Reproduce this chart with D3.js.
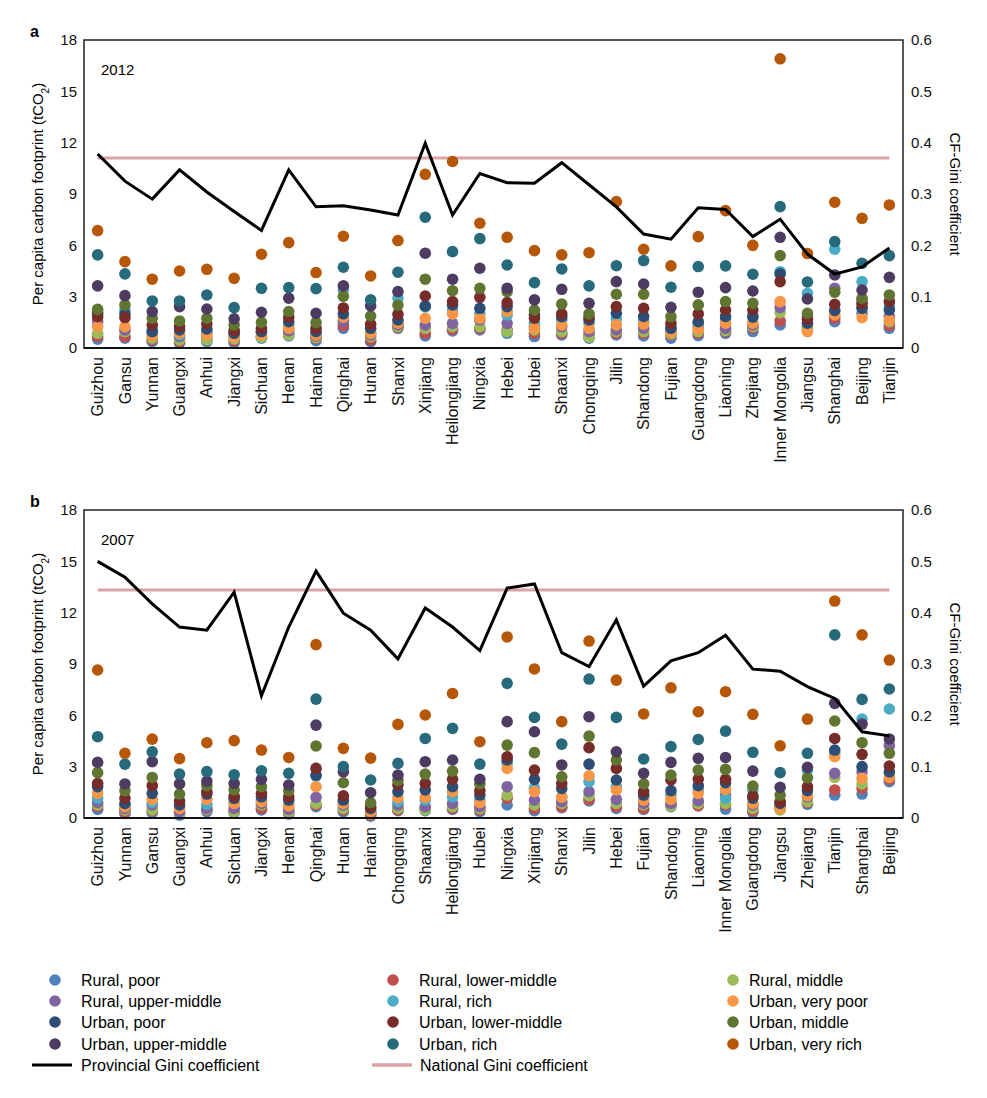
<!DOCTYPE html>
<html>
<head>
<meta charset="utf-8">
<script src="https://cdn.jsdelivr.net/npm/d3@7"></script>
<style>
  body { margin: 0; background: #fff; }
  svg { font-family: "Liberation Sans", Arial, sans-serif; }
</style>
</head>
<body>
<svg id="chart" width="987" height="1098"></svg>
<script>
// series (legend order)
var seriesNames = ["Rural, poor", "Rural, lower-middle", "Rural, middle", "Rural, upper-middle", "Rural, rich", "Urban, very poor",
  "Urban, poor", "Urban, lower-middle", "Urban, middle", "Urban, upper-middle", "Urban, rich", "Urban, very rich"];
var seriesColors = ["#4f81bd", "#c0504d", "#9bbb59", "#8064a2", "#4bacc6", "#f79646",
  "#2c4d75", "#772c2a", "#5f7530", "#4d3b62", "#276a7c", "#b65708"];

// ---- panel a, 2012 ----
var provinces2012 = ["Guizhou", "Gansu", "Yunnan", "Guangxi", "Anhui", "Jiangxi", "Sichuan", "Henan", "Hainan", "Qinghai",
  "Hunan", "Shanxi", "Xinjiang", "Heilongjiang", "Ningxia", "Hebei", "Hubei", "Shaanxi", "Chongqing", "Jilin",
  "Shandong", "Fujian", "Guangdong", "Liaoning", "Zhejiang", "Inner Mongolia", "Jiangsu", "Shanghai", "Beijing", "Tianjin"];
var rp12  = [0.51, 0.57, 0.37, 0.28, 0.37, 0.32, 0.57, 0.70, 0.43, 1.15, 0.37, 1.15, 0.70, 1.00, 1.06, 0.86, 0.67, 0.76, 0.57, 0.76, 0.70, 0.57, 0.72, 0.86, 0.96, 1.35, 1.06, 1.54, 2.03, 1.15];
var rlm12 = [0.67, 0.67, 0.47, 0.37, 0.57, 0.43, 0.67, 0.80, 0.56, 1.31, 0.47, 1.20, 0.86, 1.09, 1.15, 1.06, 0.86, 0.86, 0.76, 0.86, 0.86, 0.76, 0.86, 0.96, 1.15, 1.58, 1.25, 1.74, 2.42, 1.31];
var rm12  = [0.86, 0.96, 0.57, 0.47, 0.47, 0.53, 0.63, 0.76, 0.60, 1.60, 0.66, 1.25, 1.15, 1.25, 1.25, 0.96, 1.06, 0.96, 0.63, 0.96, 0.96, 0.83, 0.96, 1.02, 1.25, 2.07, 1.15, 2.13, 2.52, 1.54];
var rum12 = [1.54, 1.06, 0.86, 0.67, 0.86, 0.80, 0.90, 1.00, 0.70, 1.55, 0.76, 1.35, 1.35, 1.44, 1.64, 1.44, 1.25, 1.25, 0.96, 1.06, 1.15, 1.06, 1.25, 1.15, 1.35, 2.36, 1.83, 3.49, 2.81, 1.83];
var rr12  = [2.10, 2.22, 1.06, 0.76, 1.00, 0.90, 1.00, 1.30, 0.90, 3.39, 0.90, 2.91, 2.40, 2.20, 2.03, 1.93, 1.44, 1.64, 1.44, 1.70, 1.54, 1.25, 1.44, 1.64, 1.93, 4.46, 3.20, 5.77, 3.88, 2.42];
var uvp12 = [1.25, 1.25, 0.70, 0.86, 0.76, 0.67, 0.76, 1.15, 0.76, 1.80, 0.86, 1.45, 1.74, 1.99, 1.74, 2.13, 1.15, 1.35, 1.15, 1.35, 1.39, 0.92, 1.11, 1.45, 1.45, 2.71, 0.96, 1.93, 1.78, 1.64];
var up12  = [2.00, 2.00, 0.96, 1.06, 1.11, 0.86, 0.96, 1.54, 0.96, 2.00, 1.15, 1.64, 2.46, 2.52, 2.32, 2.42, 1.93, 1.83, 1.64, 2.03, 1.84, 1.15, 1.54, 1.84, 1.80, 4.33, 1.45, 2.20, 2.32, 2.22];
var ulm12 = [1.83, 1.78, 1.35, 1.25, 1.41, 1.02, 1.15, 1.80, 1.15, 2.34, 1.39, 1.97, 3.04, 2.71, 2.96, 2.65, 1.74, 1.99, 1.80, 2.42, 2.32, 1.44, 1.99, 2.22, 2.22, 3.88, 1.68, 2.55, 2.61, 2.71];
var um12  = [2.26, 2.52, 1.74, 1.58, 1.74, 1.35, 1.50, 2.13, 1.48, 3.02, 1.87, 2.50, 4.02, 3.35, 3.49, 3.30, 2.22, 2.57, 1.99, 3.14, 3.14, 1.83, 2.52, 2.71, 2.61, 5.40, 2.03, 3.26, 2.91, 3.10];
var uum12 = [3.63, 3.06, 2.13, 2.42, 2.28, 1.70, 2.09, 2.91, 2.03, 3.63, 2.46, 3.30, 5.54, 4.02, 4.66, 3.49, 2.81, 3.43, 2.61, 3.88, 3.74, 2.38, 3.26, 3.53, 3.33, 6.47, 2.87, 4.27, 3.39, 4.13];
var ur12  = [5.44, 4.33, 2.75, 2.75, 3.10, 2.36, 3.49, 3.53, 3.47, 4.72, 2.81, 4.43, 7.64, 5.63, 6.39, 4.85, 3.82, 4.62, 3.63, 4.81, 5.11, 3.55, 4.76, 4.80, 4.31, 8.26, 3.86, 6.22, 4.95, 5.40];
var uvr12 = [6.86, 5.05, 4.02, 4.50, 4.60, 4.07, 5.48, 6.16, 4.41, 6.53, 4.21, 6.28, 10.15, 10.90, 7.29, 6.47, 5.69, 5.44, 5.57, 8.56, 5.77, 4.80, 6.51, 8.03, 6.00, 16.90, 5.52, 8.52, 7.58, 8.36];
var gini12 = [0.378, 0.325, 0.290, 0.347, 0.304, 0.266, 0.229, 0.347, 0.275, 0.277, 0.269, 0.259, 0.399, 0.259, 0.340,
  0.322, 0.321, 0.361, 0.318, 0.275, 0.222, 0.212, 0.273, 0.270, 0.217, 0.251, 0.183, 0.144, 0.158, 0.195];
var nationalGini12 = 0.370;

// ---- panel b, 2007 ----
var provinces2007 = ["Guizhou", "Yunnan", "Gansu", "Guangxi", "Anhui", "Sichuan", "Jiangxi", "Henan", "Qinghai", "Hunan",
  "Hainan", "Chongqing", "Shaanxi", "Heilongjiang", "Hubei", "Ningxia", "Xinjiang", "Shanxi", "Jilin", "Hebei",
  "Fujian", "Shandong", "Liaoning", "Inner Mongolia", "Guangdong", "Jiangsu", "Zhejiang", "Tianjin", "Shanghai", "Beijing"];
var rp07  = [0.50, 0.27, 0.31, 0.17, 0.37, 0.31, 0.47, 0.23, 0.66, 0.37, 0.11, 0.43, 0.43, 0.50, 0.37, 0.76, 0.43, 0.60, 1.00, 0.56, 0.50, 0.66, 0.76, 0.52, 0.33, 0.56, 0.80, 1.34, 1.40, 2.12];
var rlm07 = [0.66, 0.37, 0.43, 0.31, 0.47, 0.43, 0.56, 0.31, 0.76, 0.47, 0.17, 0.47, 0.56, 0.56, 0.47, 1.15, 0.56, 0.66, 1.09, 0.66, 0.56, 0.76, 0.70, 0.76, 0.43, 0.66, 0.89, 1.64, 1.73, 2.26];
var rm07  = [0.76, 0.47, 0.47, 0.27, 0.50, 0.37, 0.76, 0.37, 0.85, 0.56, 0.23, 0.56, 0.47, 0.66, 0.56, 1.34, 0.76, 0.85, 1.30, 0.85, 0.76, 0.70, 0.85, 0.85, 0.56, 0.47, 0.95, 2.37, 1.99, 2.60];
var rum07 = [0.91, 0.56, 0.76, 0.37, 0.56, 0.56, 0.85, 0.50, 1.21, 0.76, 0.27, 0.76, 0.66, 0.85, 0.66, 1.83, 1.05, 0.95, 1.54, 1.09, 0.85, 0.85, 1.01, 1.34, 0.76, 0.76, 1.24, 2.61, 2.70, 4.24];
var rr07  = [1.15, 0.76, 0.89, 0.66, 0.80, 0.95, 1.05, 0.76, 2.45, 0.95, 0.40, 0.95, 1.05, 1.24, 1.05, 3.20, 1.73, 1.24, 2.12, 1.83, 1.24, 1.34, 1.64, 1.15, 1.64, 0.90, 2.80, 3.80, 5.78, 6.37];
var uvp07 = [1.44, 0.66, 1.09, 0.56, 1.09, 0.85, 0.95, 0.70, 1.83, 0.85, 0.37, 1.19, 1.21, 1.54, 0.89, 2.90, 1.54, 1.21, 2.47, 1.64, 1.05, 1.09, 1.44, 1.67, 0.85, 0.56, 1.30, 3.58, 2.32, 2.37];
var up07  = [1.83, 0.85, 1.44, 0.76, 1.40, 1.15, 1.24, 1.05, 2.51, 1.05, 0.56, 1.54, 1.64, 1.83, 1.34, 3.39, 2.26, 1.73, 3.15, 2.22, 1.34, 1.60, 1.89, 2.06, 1.15, 0.85, 1.60, 3.97, 3.00, 2.70];
var ulm07 = [2.02, 1.15, 1.89, 0.99, 1.54, 1.28, 1.44, 1.24, 2.90, 1.30, 0.66, 1.93, 2.02, 2.26, 1.60, 3.58, 2.80, 2.02, 4.11, 2.90, 1.54, 2.22, 2.28, 2.26, 1.30, 0.95, 1.83, 4.65, 3.72, 3.04];
var um07  = [2.65, 1.60, 2.37, 1.40, 1.89, 1.64, 1.83, 1.60, 4.21, 2.06, 0.89, 2.20, 2.57, 2.74, 1.99, 4.26, 3.82, 2.41, 4.79, 3.39, 1.99, 2.51, 2.80, 2.84, 1.87, 1.34, 2.35, 5.67, 4.40, 3.78];
var uum07 = [3.25, 1.99, 3.29, 1.99, 2.16, 2.02, 2.26, 1.93, 5.43, 2.70, 1.48, 2.51, 3.29, 3.39, 2.26, 5.63, 5.04, 3.10, 5.92, 3.87, 2.61, 3.25, 3.49, 3.54, 2.74, 1.79, 2.96, 6.70, 5.49, 4.62];
var ur07  = [4.75, 3.15, 3.87, 2.57, 2.71, 2.53, 2.76, 2.61, 6.95, 3.00, 2.22, 3.19, 4.65, 5.24, 3.15, 7.87, 5.88, 4.32, 8.12, 5.88, 3.45, 4.17, 4.59, 5.08, 3.84, 2.65, 3.78, 10.70, 6.93, 7.54];
var uvr07 = [8.65, 3.78, 4.61, 3.47, 4.40, 4.52, 3.97, 3.54, 10.13, 4.07, 3.50, 5.47, 6.02, 7.28, 4.46, 10.58, 8.71, 5.63, 10.34, 8.06, 6.08, 7.61, 6.21, 7.38, 6.06, 4.22, 5.78, 12.68, 10.70, 9.23];
var gini07 = [0.500, 0.469, 0.417, 0.372, 0.366, 0.440, 0.238, 0.372, 0.481, 0.399, 0.366, 0.310, 0.409, 0.372, 0.326,
  0.448, 0.456, 0.322, 0.295, 0.386, 0.257, 0.306, 0.322, 0.356, 0.290, 0.286, 0.256, 0.233, 0.168, 0.160];
var nationalGini07 = 0.444;

var cfTicks = [0, 3, 6, 9, 12, 15, 18];
var giniTicks = [0, 0.1, 0.2, 0.3, 0.4, 0.5, 0.6];

var svg = d3.select("#chart");
var left = 84, right = 903;

function drawPanel(top, bottom, letter, year, provinces, series, gini, national) {
    var g = svg.append("g");

    var x = d3.scaleBand().domain(provinces).range([left, right]);
    var y = d3.scaleLinear().domain([0, 18]).range([bottom, top]);
    var y2 = d3.scaleLinear().domain([0, 0.6]).range([bottom, top]);
    var cx = function(p) { return x(p) + x.bandwidth() / 2; };

    // left axis
    var ax = g.append("g").attr("transform", "translate(" + left + ",0)")
        .call(d3.axisLeft(y).tickValues(cfTicks).tickSize(0).tickPadding(7));
    ax.select(".domain").remove();
    ax.selectAll("text").style("font-size", "15px").attr("fill", "#111");

    // right axis
    var ax2 = g.append("g").attr("transform", "translate(" + right + ",0)")
        .call(d3.axisRight(y2).tickValues(giniTicks).tickSize(0).tickPadding(8).tickFormat(function(d) { return d; }));
    ax2.select(".domain").remove();
    ax2.selectAll("text").style("font-size", "15px").attr("fill", "#111");

    // category axis
    var ax3 = g.append("g").attr("transform", "translate(0," + bottom + ")")
        .call(d3.axisBottom(x).tickSize(0).tickPadding(0));
    ax3.select(".domain").remove();
    ax3.selectAll("text")
        .style("font-size", "16px").attr("fill", "#111")
        .attr("transform", "rotate(-90)")
        .attr("text-anchor", "end")
        .attr("x", -9).attr("y", 0).attr("dy", "0.35em");

    // national gini
    g.append("line")
        .attr("x1", cx(provinces[0])).attr("x2", cx(provinces[provinces.length - 1]))
        .attr("y1", y2(national)).attr("y2", y2(national))
        .attr("stroke", "#d9a3a3").attr("stroke-width", 3);

    // dots
    series.forEach(function(vals, i) {
        g.append("g").selectAll("circle")
            .data(vals)
            .enter().append("circle")
            .attr("cx", function(d, j) { return cx(provinces[j]); })
            .attr("cy", function(d) { return y(d); })
            .attr("r", 5.8)
            .attr("fill", seriesColors[i]);
    });

    // provincial gini
    var line = d3.line()
        .x(function(d, j) { return cx(provinces[j]); })
        .y(function(d) { return y2(d); });
    g.append("path").datum(gini)
        .attr("d", line)
        .attr("fill", "none").attr("stroke", "#000").attr("stroke-width", 3);

    // frame
    g.append("rect")
        .attr("x", left).attr("y", top)
        .attr("width", right - left).attr("height", bottom - top)
        .attr("fill", "none").attr("stroke", "#222").attr("stroke-width", 1.5);
    g.append("line").attr("x1", left).attr("x2", right)
        .attr("y1", bottom).attr("y2", bottom)
        .attr("stroke", "#111").attr("stroke-width", 2.2);

    // labels
    g.append("text").attr("x", 30).attr("y", top - 3)
        .style("font-size", "16px").style("font-weight", "bold").text(letter);
    g.append("text").attr("x", 101).attr("y", top + 35)
        .style("font-size", "15px").text(year);

    var ylab = g.append("text")
        .attr("transform", "translate(43," + ((top + bottom) / 2) + ") rotate(-90)")
        .attr("text-anchor", "middle").style("font-size", "15px");
    ylab.append("tspan").text("Per capita carbon footprint (tCO");
    ylab.append("tspan").attr("baseline-shift", "sub").style("font-size", "10px").text("2");
    ylab.append("tspan").text(")");

    g.append("text")
        .attr("transform", "translate(950," + ((top + bottom) / 2) + ") rotate(90)")
        .attr("text-anchor", "middle").style("font-size", "15px")
        .text("CF-Gini coefficient");
}

drawPanel(40, 348, "a", "2012", provinces2012,
    [rp12, rlm12, rm12, rum12, rr12, uvp12, up12, ulm12, um12, uum12, ur12, uvr12], gini12, nationalGini12);
drawPanel(510, 818, "b", "2007", provinces2007,
    [rp07, rlm07, rm07, rum07, rr07, uvp07, up07, ulm07, um07, uum07, ur07, uvr07], gini07, nationalGini07);

// legend
var legCols = [55, 393, 733];
var legRows = [980, 1001, 1022, 1044];
var legend = svg.append("g");
seriesNames.forEach(function(name, i) {
    var col = i % 3, row = Math.floor(i / 3);
    legend.append("circle")
        .attr("cx", legCols[col]).attr("cy", legRows[row])
        .attr("r", 5.8).attr("fill", seriesColors[i]);
    legend.append("text")
        .attr("x", legCols[col] + (col == 2 ? 16 : 26)).attr("y", legRows[row]).attr("dy", "0.35em")
        .style("font-size", "16px").text(name);
});
legend.append("line").attr("x1", 32).attr("x2", 72).attr("y1", 1065).attr("y2", 1065)
    .attr("stroke", "#000").attr("stroke-width", 3);
legend.append("text").attr("x", 81).attr("y", 1065).attr("dy", "0.35em")
    .style("font-size", "16px").text("Provincial Gini coefficient");
legend.append("line").attr("x1", 372).attr("x2", 412).attr("y1", 1065).attr("y2", 1065)
    .attr("stroke", "#d9a3a3").attr("stroke-width", 3.5);
legend.append("text").attr("x", 420).attr("y", 1065).attr("dy", "0.35em")
    .style("font-size", "16px").text("National Gini coefficient");
</script>
</body>
</html>
